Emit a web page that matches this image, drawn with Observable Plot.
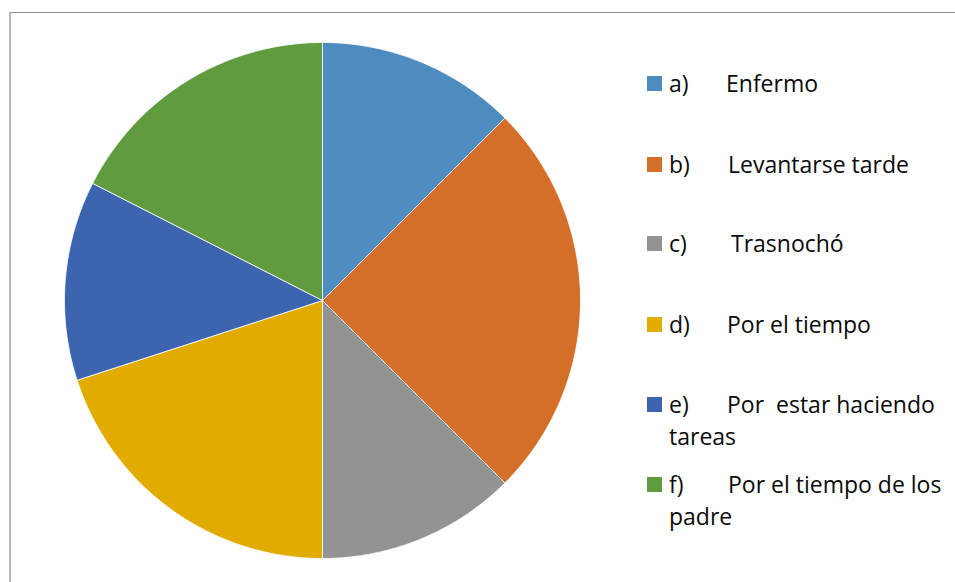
<!DOCTYPE html>
<html><head><meta charset="utf-8">
<script src="https://cdn.jsdelivr.net/npm/d3@7"></script>
<script src="https://cdn.jsdelivr.net/npm/@observablehq/plot@0.6"></script>
<style>
body{margin:0;background:#fff;}
#wrap{position:relative;width:955px;height:582px;overflow:hidden;background:#fff;}
#frame{position:absolute;left:9px;top:12px;width:980px;height:620px;border-top:1px solid #8c8c8c;border-left:2px solid #b8b8b8;box-sizing:border-box;}
#chart{position:absolute;left:0;top:0;}
.row{position:absolute;left:647px;width:300px;font-family:"Open Sans",sans-serif;font-size:23px;line-height:32px;color:#0a0a0a;}
.sw{position:absolute;left:0;width:15px;height:15px;}
.txt{position:absolute;left:22px;width:280px;white-space:pre;}
.lab{position:absolute;white-space:pre;}
</style></head>
<body>
<div id="wrap"><div id="frame"></div><div id="chart"></div><div id="legend"></div></div>
<script>
const letters = ["a)", "b)", "c)", "d)", "e)", "f)"];
const categories = ["Enfermo", "Levantarse tarde", "Trasnochó", "Por el tiempo", "Por  estar haciendo tareas", "Por el tiempo de los padre"];
const values = [5, 10, 5, 8, 5, 7];
const colors = ["#4e8bbf", "#d46f2a", "#939393", "#e2ab00", "#3d64ae", "#609b3f"];
// wrapped lines as in the legend
const lines = [["Enfermo"], ["Levantarse tarde"], ["Trasnochó"], ["Por el tiempo"], ["Por  estar haciendo", "tareas"], ["Por el tiempo de los", "padre"]];
const labelIndent = [57, 59, 62, 58, 58, 59];

const arcs = d3.pie().sort(null).startAngle(0).endAngle(2 * Math.PI)(values);
const pts = [];
arcs.forEach((a, i) => {
  const c = categories[i];
  pts.push({c, x: 0, y: 0});
  const n = Math.max(2, Math.ceil((a.endAngle - a.startAngle) / (Math.PI / 360)));
  for (let k = 0; k <= n; k++) {
    const t = a.startAngle + (a.endAngle - a.startAngle) * k / n;
    pts.push({c, x: Math.sin(t), y: Math.cos(t)});
  }
  pts.push({c, x: 0, y: 0});
});

const chart = Plot.plot({
  width: 955, height: 582,
  marginLeft: 64, marginRight: 375, marginTop: 42, marginBottom: 24,
  x: {domain: [-1, 1], axis: null},
  y: {domain: [-1, 1], axis: null},
  color: {domain: categories, range: colors},
  style: {background: "transparent"},
  marks: [
    Plot.line(pts, {x: "x", y: "y", z: "c", fill: "c", stroke: "white", strokeWidth: 0.8, strokeLinejoin: "round"})
  ]
});
document.getElementById("chart").append(chart);

const tops = [76, 157, 236, 317, 397, 477];
const legend = document.getElementById("legend");
categories.forEach((c, i) => {
  const row = document.createElement("div");
  row.className = "row";
  row.style.top = (tops[i] - 9) + "px";
  const sw = document.createElement("div");
  sw.className = "sw"; sw.style.background = colors[i]; sw.style.top = "9px";
  row.append(sw);
  const txt = document.createElement("div");
  txt.className = "txt";
  lines[i].forEach((ln, j) => {
    const d = document.createElement("div");
    d.style.position = "relative";
    d.style.height = "32px";
    if (j === 0) {
      const l = document.createElement("span"); l.textContent = letters[i];
      const s = document.createElement("span"); s.className = "lab"; s.textContent = ln;
      s.style.left = labelIndent[i] + "px";
      d.append(l, s);
    } else d.textContent = ln;
    txt.append(d);
  });
  row.append(txt);
  legend.append(row);
});
</script>
</body></html>
